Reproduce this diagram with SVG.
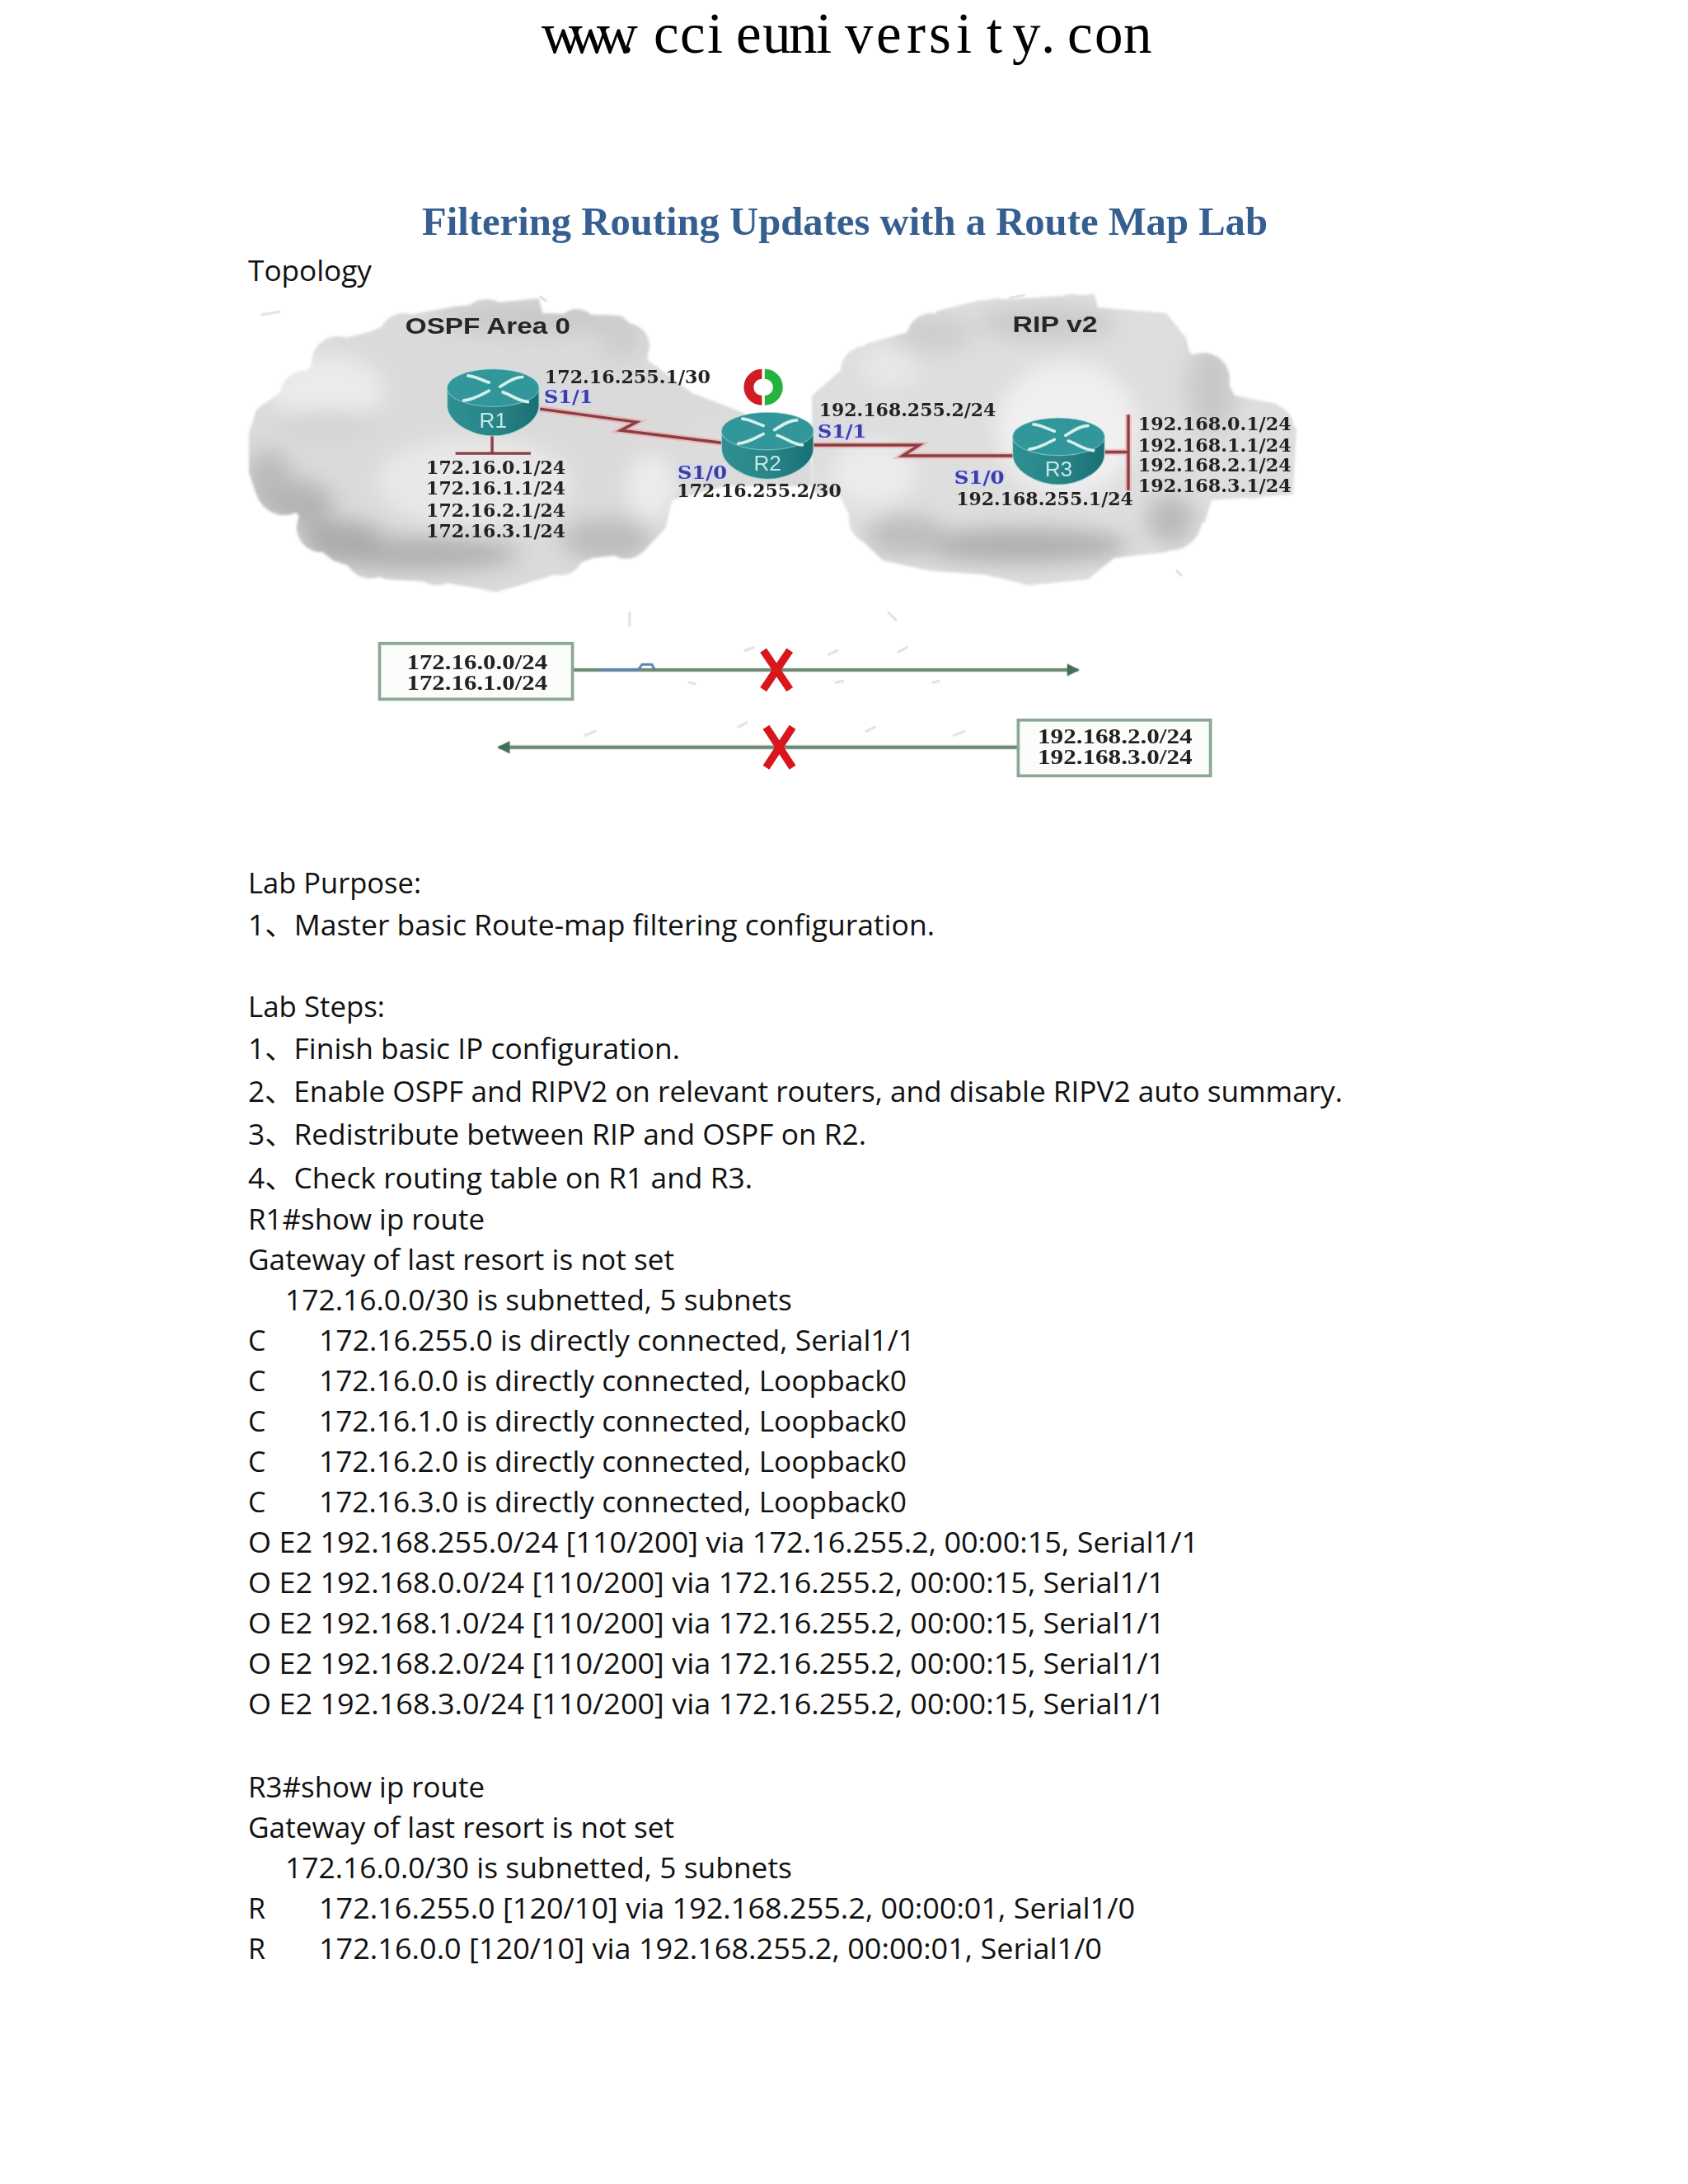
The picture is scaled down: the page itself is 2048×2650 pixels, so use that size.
<svg xmlns="http://www.w3.org/2000/svg" width="2048" height="2650" viewBox="0 0 2048 2650">
<style>
.b{font-family:"Open Sans","Noto Sans CJK SC",sans-serif;font-size:34px;fill:#111}
.t{font-family:"DejaVu Serif",serif;font-weight:bold;font-size:13px;fill:#222}
.bt{font-family:"Liberation Serif",serif;font-weight:bold;font-size:15.500px;fill:#222}
.s{font-family:"DejaVu Serif",serif;font-weight:bold;font-size:13px;fill:#3a3f9e;stroke:#d6d6f6;stroke-width:2;paint-order:stroke}
.h{font-family:"Liberation Sans",sans-serif;font-weight:bold;font-size:16.500px;fill:#262626}
.r{font-family:"Liberation Sans",sans-serif;font-size:15.500px;fill:#c4e8e6;text-anchor:middle}
.link{fill:none;stroke:#8a3c42;stroke-width:2}
.halo{fill:none;stroke:#f0a0a0;stroke-width:4.500;opacity:.6}
.g{fill:none;stroke:#6c8a76;stroke-width:2.600}
.x{fill:none;stroke:#d8141c;stroke-width:5.500}
.box{fill:#fbfdfb;stroke:#8ba895;stroke-width:2.200}
.speck{fill:none;stroke:#e4e4e4;stroke-width:2;stroke-linecap:round}
</style>
<defs>
<filter id="blurS" x="-10%" y="-10%" width="120%" height="120%"><feGaussianBlur stdDeviation="0.45"/></filter>
<filter id="blurL" x="-50%" y="-50%" width="200%" height="200%"><feGaussianBlur stdDeviation="13"/></filter>
<filter id="blurE" x="-5%" y="-5%" width="110%" height="110%"><feGaussianBlur stdDeviation="1.800"/></filter>
<clipPath id="cl"><path d="M302,527 L311,497 L344,473 L372,450 L408,413 L451,402 L490,383 L551,372 L654,362 L658,380 L754,383 L783,410 L786,437 L840,477 L900,500 L985,560 L985,590 L880,590 L815,607 L808,640 L780,670 L719,677 L665,700 L604,718 L540,707 L469,703 L404,680 L376,657 L361,623 L311,600 L302,573 Z"/>
<circle cx="340" cy="530" r="38"/><circle cx="370" cy="480" r="30"/><circle cx="410" cy="440" r="32"/><circle cx="490" cy="410" r="30"/><circle cx="590" cy="395" r="32"/><circle cx="700" cy="400" r="25"/><circle cx="760" cy="420" r="28"/><circle cx="345" cy="590" r="35"/><circle cx="390" cy="640" r="30"/><circle cx="450" cy="670" r="32"/><circle cx="530" cy="680" r="30"/><circle cx="600" cy="690" r="28"/><circle cx="680" cy="670" r="28"/><circle cx="760" cy="650" r="28"/><circle cx="800" cy="600" r="18"/></clipPath>
<clipPath id="cr"><path d="M985,480 L1023,447 L1051,417 L1114,400 L1138,377 L1186,365 L1328,357 L1332,373 L1415,380 L1439,410 L1443,427 L1486,457 L1498,480 L1549,490 L1573,520 L1569,600 L1470,607 L1462,633 L1415,670 L1352,677 L1320,703 L1249,710 L1194,697 L1130,693 L1071,680 L1047,657 L1031,627 L1020,603 L985,597 Z"/>
<circle cx="1050" cy="450" r="30"/><circle cx="1130" cy="410" r="30"/><circle cx="1210" cy="390" r="28"/><circle cx="1300" cy="385" r="28"/><circle cx="1400" cy="410" r="30"/><circle cx="1460" cy="460" r="32"/><circle cx="1540" cy="520" r="30"/><circle cx="1060" cy="630" r="30"/><circle cx="1130" cy="660" r="32"/><circle cx="1250" cy="680" r="30"/><circle cx="1340" cy="650" r="28"/><circle cx="1420" cy="630" r="38"/><circle cx="1520" cy="575" r="30"/></clipPath>
<linearGradient id="rb" x1="0" x2="1" y1="0" y2="0"><stop offset="0" stop-color="#2f8f92"/><stop offset=".5" stop-color="#2a8588"/><stop offset="1" stop-color="#1b6f74"/></linearGradient>
<marker id="ah" viewBox="0 0 8 8" refX="7" refY="4" markerWidth="3.500" markerHeight="3.500" orient="auto"><path d="M0,0 L8,4 L0,8 Z" fill="#3f6f5a"/></marker>
<g id="router">
<path d="M-33,13 L-33,26 C-33,38 -16,48 0,48 C16,48 33,38 33,26 L33,13 Z" fill="url(#rb)" stroke="#aee0dc" stroke-width=".8" stroke-opacity=".7"/>
<ellipse cx="0" cy="13.500" rx="33" ry="13.500" fill="#33979a" stroke="#aee0dc" stroke-width=".6" stroke-opacity=".6"/>
<g fill="none" stroke="#d4efec" stroke-width="2.200" stroke-linecap="round">
<path d="M-18,4.700 C-13,5 -8,8 -3,9.600"/><path d="M21,5.700 C14,6 10,10 5,12.600"/><path d="M-21,22.500 C-14,22 -8,18 -3,15.600"/><path d="M25,23.500 C18,23 12,18 7,16.600"/>
</g>
</g>
</defs>
<rect width="2048" height="2650" fill="#fff"/>
<text id="header" font-family="Liberation Serif, serif" font-size="69" fill="#000" y="64" x="657 690 724 752 785 793 825 858 880 893 925 957 990 1010 1025 1063 1100 1127 1160 1180 1197 1215 1228 1263 1280 1295 1328 1363">www. cci euni versi t y. con</text>
<text id="title" font-family="Liberation Serif, serif" font-weight="bold" font-size="48" fill="#365f91" x="512" y="285" textLength="1026" lengthAdjust="spacingAndGlyphs">Filtering Routing Updates with a Route Map Lab</text>
<text class="b" x="301" y="341" textLength="150" lengthAdjust="spacingAndGlyphs">Topology</text>
<g id="clouds">
<g id="cloud-left" filter="url(#blurE)"><g clip-path="url(#cl)">
<rect x="290" y="340" width="710" height="400" fill="#dadada"/>
<g filter="url(#blurL)">
<ellipse cx="397" cy="473" rx="70" ry="42" fill="#ebebeb"/>
<ellipse cx="397" cy="512" rx="60" ry="11" fill="#cdcdcd"/>
<ellipse cx="326" cy="585" rx="30" ry="40" fill="#bcbcbc"/>
<ellipse cx="365" cy="612" rx="40" ry="28" fill="#b4b4b4"/>
<ellipse cx="504" cy="672" rx="125" ry="20" fill="#b0b0b0"/>
<ellipse cx="415" cy="655" rx="50" ry="24" fill="#acacac"/>
<ellipse cx="736" cy="655" rx="55" ry="26" fill="#bcbcbc"/>
<ellipse cx="790" cy="590" rx="30" ry="40" fill="#ececec"/>
<ellipse cx="647" cy="385" rx="120" ry="18" fill="#c8c8c8"/>
<ellipse cx="754" cy="407" rx="25" ry="28" fill="#cccccc"/>
<ellipse cx="576" cy="585" rx="120" ry="55" fill="#e8e8e8"/>
<ellipse cx="900" cy="540" rx="70" ry="36" fill="#dddddd"/>
</g>
</g></g>
<g id="cloud-right" filter="url(#blurE)"><g clip-path="url(#cr)">
<rect x="980" y="340" width="610" height="380" fill="#dedede"/>
<g filter="url(#blurL)">
<ellipse cx="1295" cy="520" rx="85" ry="80" fill="#f0f0f0"/>
<ellipse cx="1130" cy="405" rx="50" ry="24" fill="#cecece"/>
<ellipse cx="1270" cy="392" rx="85" ry="22" fill="#cbcbcb"/>
<ellipse cx="1080" cy="445" rx="35" ry="25" fill="#e8e8e8"/>
<ellipse cx="1470" cy="470" rx="30" ry="55" fill="#c8c8c8"/>
<ellipse cx="1240" cy="662" rx="130" ry="22" fill="#b0b0b0"/>
<ellipse cx="1100" cy="650" rx="50" ry="26" fill="#bebebe"/>
<ellipse cx="1420" cy="630" rx="30" ry="30" fill="#bababa"/>
<ellipse cx="1060" cy="575" rx="50" ry="38" fill="#ececec"/>
</g>
</g></g>
</g>
<g id="topology" transform="scale(1.69)">
<path class="speck" d="M188,226 l12,-2 M388,213 l4,3 M725,214 l10,-2 M638,440 l5,5 M845,410 l3,3 M452,440 l0,9 M535,467 l6,-2 M595,470 l6,-3 M645,468 l6,-3 M530,522 l6,-3 M622,525 l6,-3 M420,528 l7,-3 M685,528 l7,-3 M495,490 l4,1 M600,490 l5,-1 M670,490 l4,-1"/>
<g id="connectors" filter="url(#blurS)">
<path class="halo" d="M387.600,293.500 L457,303 L445.600,309 L519,318"/>
<path class="link" d="M387.600,293.500 L457,303 L445.600,309 L519,318"/>
<path class="halo" d="M583,319.500 L660,319.500 L648,327.200 L728,327.200"/>
<path class="link" d="M583,319.500 L660,319.500 L648,327.200 L728,327.200"/>
<path class="link" d="M353.300,312 V325.500 M327,325.500 H381"/>
<path class="halo" d="M793,324.500 H810 M810,297.600 V352"/>
<path class="link" d="M793,324.500 H810 M810,297.600 V352"/>
<path class="g" d="M411,481 H774" marker-end="url(#ah)"/>
<path class="g" d="M731,536.500 H358" marker-end="url(#ah)"/>
<path d="M430,481 H458 L461,477 H468 L470,481" fill="none" stroke="#5a84b4" stroke-width="1.800"/>
</g>
<g filter="url(#blurS)">
<g id="R1" transform="translate(354,265)"><use href="#router"/><text class="r" x="0" y="42">R1</text></g>
<g id="R2" transform="translate(551,296)"><use href="#router"/><text class="r" x="0" y="42">R2</text></g>
<g id="R3" transform="translate(760,300)"><use href="#router"/><text class="r" x="0" y="42">R3</text></g>
<g id="sync" transform="translate(548,278)" fill="none" stroke-width="7">
<path d="M-1,-9.500 A9.500,9.500 0 0 0 -1,9.500" stroke="#d01c20"/><path d="M1,-9.500 A9.500,9.500 0 0 1 1,9.500" stroke="#27b33c"/>
</g>
<text class="h" x="291" y="239.500" textLength="118.500" lengthAdjust="spacingAndGlyphs">OSPF Area 0</text>
<text class="h" x="727" y="238.500" textLength="61" lengthAdjust="spacingAndGlyphs">RIP v2</text>
<text class="t" x="391" y="275" textLength="119" lengthAdjust="spacingAndGlyphs">172.16.255.1/30</text>
<text class="s" x="390.600" y="289.500" textLength="35" lengthAdjust="spacingAndGlyphs">S1/1</text>
<text class="t" x="306" y="340" textLength="100" lengthAdjust="spacingAndGlyphs">172.16.0.1/24</text>
<text class="t" x="306" y="355" textLength="100" lengthAdjust="spacingAndGlyphs">172.16.1.1/24</text>
<text class="t" x="306" y="371" textLength="100" lengthAdjust="spacingAndGlyphs">172.16.2.1/24</text>
<text class="t" x="306" y="386" textLength="100" lengthAdjust="spacingAndGlyphs">172.16.3.1/24</text>
<text class="s" x="486.400" y="344" textLength="35.500" lengthAdjust="spacingAndGlyphs">S1/0</text>
<text class="t" x="486" y="357" textLength="118" lengthAdjust="spacingAndGlyphs">172.16.255.2/30</text>
<text class="t" x="588" y="299" textLength="127" lengthAdjust="spacingAndGlyphs">192.168.255.2/24</text>
<text class="s" x="587" y="314" textLength="35" lengthAdjust="spacingAndGlyphs">S1/1</text>
<text class="s" x="685" y="347.300" textLength="36" lengthAdjust="spacingAndGlyphs">S1/0</text>
<text class="t" x="686.500" y="362.900" textLength="127" lengthAdjust="spacingAndGlyphs">192.168.255.1/24</text>
<text class="t" x="817" y="309" textLength="110" lengthAdjust="spacingAndGlyphs">192.168.0.1/24</text>
<text class="t" x="817" y="324" textLength="110" lengthAdjust="spacingAndGlyphs">192.168.1.1/24</text>
<text class="t" x="817" y="338.500" textLength="110" lengthAdjust="spacingAndGlyphs">192.168.2.1/24</text>
<text class="t" x="817" y="353.500" textLength="110" lengthAdjust="spacingAndGlyphs">192.168.3.1/24</text>
<g id="box1"><rect class="box" x="272.500" y="462" width="138.500" height="40"/>
<text class="bt" x="292" y="480.500" textLength="101" lengthAdjust="spacingAndGlyphs">172.16.0.0/24</text>
<text class="bt" x="292" y="495.500" textLength="101" lengthAdjust="spacingAndGlyphs">172.16.1.0/24</text></g>
<g id="box2"><rect class="box" x="731" y="517" width="138" height="40"/>
<text class="bt" x="745" y="533.700" textLength="111" lengthAdjust="spacingAndGlyphs">192.168.2.0/24</text>
<text class="bt" x="745" y="548.500" textLength="111" lengthAdjust="spacingAndGlyphs">192.168.3.0/24</text></g>
<path class="x" d="M548,467 L567,495 M567,467 L548,495"/>
<path class="x" d="M550,522 L569,551 M569,522 L550,551"/>
</g>
</g>
<g id="body">
<text class="b" x="301" y="1084" textLength="210" lengthAdjust="spacingAndGlyphs">Lab Purpose:</text>
<text class="b" x="301" y="1135" textLength="833" lengthAdjust="spacingAndGlyphs">1、Master basic Route-map filtering configuration.</text>
<text class="b" x="301" y="1234" textLength="166" lengthAdjust="spacingAndGlyphs">Lab Steps:</text>
<text class="b" x="301" y="1285" textLength="524" lengthAdjust="spacingAndGlyphs">1、Finish basic IP configuration.</text>
<text class="b" x="301" y="1337" textLength="1328" lengthAdjust="spacingAndGlyphs">2、Enable OSPF and RIPV2 on relevant routers, and disable RIPV2 auto summary.</text>
<text class="b" x="301" y="1389" textLength="750" lengthAdjust="spacingAndGlyphs">3、Redistribute between RIP and OSPF on R2.</text>
<text class="b" x="301" y="1442" textLength="612" lengthAdjust="spacingAndGlyphs">4、Check routing table on R1 and R3.</text>
<text class="b" x="301" y="1492" textLength="287" lengthAdjust="spacingAndGlyphs">R1#show ip route</text>
<text class="b" x="301" y="1541" textLength="517" lengthAdjust="spacingAndGlyphs">Gateway of last resort is not set</text>
<text class="b" x="346" y="1590" textLength="615" lengthAdjust="spacingAndGlyphs">172.16.0.0/30 is subnetted, 5 subnets</text>
<text class="b" x="301" y="1639">C</text><text class="b" x="387" y="1639" textLength="723" lengthAdjust="spacingAndGlyphs">172.16.255.0 is directly connected, Serial1/1</text>
<text class="b" x="301" y="1688">C</text><text class="b" x="387" y="1688" textLength="713" lengthAdjust="spacingAndGlyphs">172.16.0.0 is directly connected, Loopback0</text>
<text class="b" x="301" y="1737">C</text><text class="b" x="387" y="1737" textLength="713" lengthAdjust="spacingAndGlyphs">172.16.1.0 is directly connected, Loopback0</text>
<text class="b" x="301" y="1786">C</text><text class="b" x="387" y="1786" textLength="713" lengthAdjust="spacingAndGlyphs">172.16.2.0 is directly connected, Loopback0</text>
<text class="b" x="301" y="1835">C</text><text class="b" x="387" y="1835" textLength="713" lengthAdjust="spacingAndGlyphs">172.16.3.0 is directly connected, Loopback0</text>
<text class="b" x="301" y="1884" textLength="1153" lengthAdjust="spacingAndGlyphs">O E2 192.168.255.0/24 [110/200] via 172.16.255.2, 00:00:15, Serial1/1</text>
<text class="b" x="301" y="1933" textLength="1112" lengthAdjust="spacingAndGlyphs">O E2 192.168.0.0/24 [110/200] via 172.16.255.2, 00:00:15, Serial1/1</text>
<text class="b" x="301" y="1982" textLength="1112" lengthAdjust="spacingAndGlyphs">O E2 192.168.1.0/24 [110/200] via 172.16.255.2, 00:00:15, Serial1/1</text>
<text class="b" x="301" y="2031" textLength="1112" lengthAdjust="spacingAndGlyphs">O E2 192.168.2.0/24 [110/200] via 172.16.255.2, 00:00:15, Serial1/1</text>
<text class="b" x="301" y="2080" textLength="1112" lengthAdjust="spacingAndGlyphs">O E2 192.168.3.0/24 [110/200] via 172.16.255.2, 00:00:15, Serial1/1</text>
<text class="b" x="301" y="2181" textLength="287" lengthAdjust="spacingAndGlyphs">R3#show ip route</text>
<text class="b" x="301" y="2230" textLength="517" lengthAdjust="spacingAndGlyphs">Gateway of last resort is not set</text>
<text class="b" x="346" y="2279" textLength="615" lengthAdjust="spacingAndGlyphs">172.16.0.0/30 is subnetted, 5 subnets</text>
<text class="b" x="301" y="2328">R</text><text class="b" x="387" y="2328" textLength="990" lengthAdjust="spacingAndGlyphs">172.16.255.0 [120/10] via 192.168.255.2, 00:00:01, Serial1/0</text>
<text class="b" x="301" y="2377">R</text><text class="b" x="387" y="2377" textLength="950" lengthAdjust="spacingAndGlyphs">172.16.0.0 [120/10] via 192.168.255.2, 00:00:01, Serial1/0</text>
</g>
</svg>
